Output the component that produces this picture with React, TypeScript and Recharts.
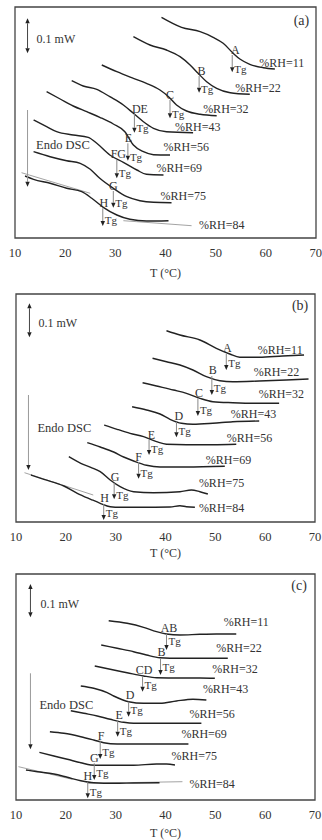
import React from 'react';
import { LineChart, Line, XAxis, YAxis, ReferenceArea, ReferenceLine, ReferenceDot } from 'recharts';

type Pt = [number, number];
type Txt = [string, number, number];
type Arr = [number, number, number, number];

const SERIF = '"Liberation Serif", "Times New Roman", serif';
const xTicks = [10, 20, 30, 40, 50, 60, 70];

// ---------- Panel (a) ----------
const aRH11: Pt[] = [[39.2,220.7],[43.2,210.7],[46.9,206.3],[49.5,200.7],[51.5,194.7],[53.5,184.7],[54.9,178.7],[56.8,173.7],[59.5,170.3],[61.8,169]];
const aRH22: Pt[] = [[33.6,201.3],[36.9,193],[40.2,188],[42.9,181.3],[44.9,173],[46.5,164.7],[48.2,156.3],[50.2,149.7],[52.9,145.3],[56.8,143.7]];
const aRH32: Pt[] = [[27.3,173],[30.3,166.3],[33.6,159.7],[36.2,154.7],[38.9,148],[40.6,141.3],[42.2,133],[44.2,127],[46.9,123.7],[50.2,122.3]];
const aRH43: Pt[] = [[21.3,157.3],[23.6,152],[26.3,148.7],[28.9,141.3],[31.6,133],[33.6,124.7],[35.6,116.3],[37.6,109.7],[40.2,106.3],[45.5,105.3]];
const aRH56: Pt[] = [[16.3,146.3],[19.0,139],[21.6,132],[24.3,126.3],[26.9,120.7],[29.6,114],[31.9,106.3],[33.6,93],[35.6,86.3],[37.6,83.3],[40.9,83]];
const aRH69: Pt[] = [[13.7,118],[16.3,111.3],[18.3,106.3],[21.6,103],[24.6,100.7],[26.3,94.7],[28.9,83],[31.6,75.7],[34.3,68],[36.2,63.7],[39.6,63]];
const aRH75: Pt[] = [[13.7,86.3],[17.0,81.3],[20.3,77.3],[23.0,74.7],[25.0,68.7],[26.9,59.7],[29.6,49.7],[32.3,41.3],[34.9,37.3],[37.6,35.7],[41.2,35.3]];
const aRH84: Pt[] = [[12.0,62],[13.7,58.7],[17.0,54.7],[20.3,49.7],[23.3,46.3],[25.3,39.7],[27.6,30.7],[30.3,23],[32.9,18.7],[36.2,17],[40.6,17.3]];
const aTan1: Pt[] = [[11.3,65.3],[25.0,44.7]];
const aTan2: Pt[] = [[31.6,17.3],[45.2,12.3]];
const aLetters: Txt[] = [['A',53.9,188],['B',47.2,167.3],['C',40.9,143],['DE',34.9,129],['E',32.6,99.7],['FG',30.6,84],['G',29.6,52],['H',27.7,35.3]];
const aArrows: Arr[] = [[53.3,183,165.7,169],[46.7,162,145.3,148.7],[40.9,138,119.7,124],[33.8,124,105.3,109.7],[32.5,94.7,77.3,80.7],[30.3,78,59.7,64.7],[29.6,47,30.3,34.7],[27.5,29.7,12,18]];
const aRH: Txt[] = [['%RH=11',58.7,174.7],['%RH=22',53.9,149.7],['%RH=32',47.5,129],['%RH=43',41.9,111.3],['%RH=56',39.6,90.7],['%RH=69',38.2,69.7],['%RH=75',39.0,42],['%RH=84',46.7,13]];
const aScale: number[] = [12.5, 219.7, 184.7];
const aScaleText: Txt = ['0.1 mW', 14.3, 198.7];
const aEndo: number[] = [12.5, 128, 51.3];
const aEndoText: Txt = ['Endo DSC', 14.2, 93];
const aTag: Txt = ['(a)', 67.1, 217.3];

// ---------- Panel (b) ----------
const bRH11: Pt[] = [[40.2,191.3],[42.9,187],[46.9,182],[50.2,173.7],[52.9,168],[54.9,164.7],[58.8,164.7],[63.5,166],[67.8,167]];
const bRH22: Pt[] = [[37.4,163.7],[40.2,160.3],[42.9,157],[45.5,152],[48.2,145.3],[50.9,141.3],[53.5,140.3],[58.8,141],[64.2,142],[68.7,143]];
const bRH32: Pt[] = [[35.4,139.3],[38.2,136],[41.6,132],[44.2,128.7],[46.9,123.7],[49.5,120.3],[53.5,119.3],[58.8,118.7],[62.8,118.7]];
const bRH43: Pt[] = [[33.3,115.3],[36.2,112],[38.9,108],[40.9,102.7],[43.2,98.7],[45.5,97.7],[49.5,98.7],[53.5,100.3],[58.8,101]];
const bRH56: Pt[] = [[27.7,97],[30.3,92.7],[32.9,88.7],[35.6,85.3],[38.2,80.3],[40.2,77.7],[44.2,77.3],[49.5,77.3],[54.2,77.7]];
const bRH69: Pt[] = [[24.3,79.3],[26.9,75],[29.6,70],[31.6,65],[33.6,61],[36.2,56.7],[38.9,55],[44.2,55],[51.9,55.7]];
const bRH75: Pt[] = [[20.6,65.3],[23.0,58.7],[25.0,54.7],[26.9,50.3],[28.9,42],[30.9,35.3],[33.6,30.3],[37.6,29.3],[42.9,30.3],[45.2,32],[46.9,30.3],[48.5,28]];
const bRH84: Pt[] = [[13.0,47],[15.6,42.7],[19.6,36],[22.3,28.7],[25.0,22.7],[26.9,18.7],[28.9,15.3],[30.9,14.7],[34.9,14.7],[40.9,15],[42.9,16.3],[44.2,15.3],[45.9,14.7]];
const bTan1: Pt[] = [[11.7,49.3],[25.5,27]];
const bLetters: Txt[] = [['A',52.4,173.7],['B',49.5,152],['C',46.7,128.7],['D',42.7,106],['E',37.2,87],['F',34.6,65.3],['G',29.9,45.3],['H',27.8,23.7]];
const bArrows: Arr[] = [[52.2,168,152,159.3],[49.3,146,127,133.7],[46.5,123.7,106,112],[42.2,100.3,84.7,91.3],[36.7,82,67,73],[34.6,60,43.3,49.3],[29.7,39.3,22.7,27],[27.6,18,2,8.7]];
const bRH: Txt[] = [['%RH=11',58.5,172],['%RH=22',57.7,150.3],['%RH=32',58.7,127.7],['%RH=43',53.1,108],['%RH=56',52.3,83.7],['%RH=69',48.1,62.3],['%RH=75',46.7,38.7],['%RH=84',46.7,14.3]];
const bScale: number[] = [12.7, 218.7, 184.7];
const bScaleText: Txt = ['0.1 mW', 14.5, 198.7];
const bEndo: number[] = [12.5, 127, 52];
const bEndoText: Txt = ['Endo DSC', 14.3, 93.7];
const bTag: Txt = ['(b)', 67, 217];

// ---------- Panel (c) ----------
const cRH11: Pt[] = [[28.6,179.3],[32.3,176.7],[35.6,172.7],[38.2,168.3],[40.2,166],[42.9,165],[46.9,165.7],[50.2,166],[54.2,166]];
const cRH22: Pt[] = [[27.1,155],[30.3,151.7],[33.6,148.3],[36.2,145],[38.9,142.3],[42.9,141.7],[46.9,141.7],[52.5,141.7]];
const cRH32: Pt[] = [[25.8,134],[28.9,130.7],[32.3,127.3],[35.6,124],[38.2,122.3],[42.9,122],[46.9,122],[49.9,121.7]];
const cRH43: Pt[] = [[23.0,114],[25.6,111.7],[28.3,107.3],[29.6,104],[32.6,98.3],[35.6,96.7],[38.9,96.7],[42.2,99],[45.5,100.7],[48.2,100]];
const cRH56: Pt[] = [[21.0,89.3],[23.6,86.7],[26.3,84],[28.9,80.7],[31.6,77.7],[33.6,76.7],[37.6,76.7],[42.9,76.7],[47.2,76.7]];
const cRH69: Pt[] = [[16.8,68.3],[19.6,66.7],[23.0,63.3],[25.6,60],[27.6,57.3],[30.3,56],[34.9,56],[40.2,56],[44.6,56]];
const cRH75: Pt[] = [[14.7,47.7],[17.6,44],[20.3,40.7],[23.0,37.3],[25.0,35],[26.9,34.7],[33.6,34.7],[38.2,36],[40.2,36],[41.9,35]];
const cRH84: Pt[] = [[12.0,30],[14.3,28.3],[17.6,26],[20.3,22.7],[23.0,19.3],[25.6,17.3],[29.6,16.7],[33.6,17],[38.8,17.3]];
const cTan1: Pt[] = [[10.5,33.3],[21.3,20.7]];
const cTan2: Pt[] = [[24.3,16.7],[43.4,18.3]];
const cLetters: Txt[] = [['AB',40.7,171.7],['B',39.2,148.3],['CD',35.7,130],['D',32.9,105],['E',30.7,85],['F',27.1,64.3],['G',25.7,42.3],['H',24.4,24]];
const cArrows: Arr[] = [[40.2,166,150,159],[39.0,141.7,125,132.7],[35.4,123.3,108.3,115],[32.6,98.3,83.3,90],[30.4,80,63.3,69.3],[26.9,59.3,41,48.3],[25.7,36.7,20,26.7],[24.4,18.3,1.7,8.3]];
const cRH: Txt[] = [['%RH=11',51.7,177.7],['%RH=22',50.2,151.7],['%RH=32',49.4,131],['%RH=43',47.5,110.7],['%RH=56',44.8,86],['%RH=69',43.2,65.7],['%RH=75',41.2,44.3],['%RH=84',44.8,16]];
const cScale: number[] = [12.9, 216, 182.7];
const cScaleText: Txt = ['0.1 mW', 14.9, 196];
const cEndo: number[] = [12.9, 126.7, 50.7];
const cEndoText: Txt = ['Endo DSC', 14.7, 95];
const cTag: Txt = ['(c)', 66.8, 215];

const toData = (pts: Pt[]) => pts.map(([t, y]) => ({ t, y }));

const arrowShape = (stem: string, head: string, both: boolean) => (p: any) => {
  const { x1, y1, x2, y2 } = p;
  const hw = 2.2;
  const hl = 5;
  const dir = y2 > y1 ? 1 : -1;
  return (
    <g>
      <line x1={x1} y1={both ? y1 + dir * hl : y1} x2={x2} y2={y2 - dir * hl} stroke={stem} strokeWidth={1} />
      <polygon points={`${x2},${y2} ${x2 - hw},${y2 - dir * hl} ${x2 + hw},${y2 - dir * hl}`} fill={head} />
      {both && (
        <polygon points={`${x1},${y1} ${x1 - hw},${y1 + dir * hl} ${x1 + hw},${y1 + dir * hl}`} fill={head} />
      )}
    </g>
  );
};

const textShape = (txt: string, anchor: 'start' | 'middle', size: number, dx = 0) => (p: any) => (
  <text
    x={p.cx + dx}
    y={p.cy}
    textAnchor={anchor}
    dominantBaseline="central"
    fontFamily={SERIF}
    fontSize={size}
    fill="#333"
  >
    {txt}
  </text>
);

interface PanelCfg {
  key: string;
  top: number;
  height: number;
  mt: number;
  ml: number;
  mr: number;
  H: number;
  titleOffset: number;
  curves: Pt[][];
  tangents: Pt[][];
  letters: Txt[];
  arrows: Arr[];
  rh: Txt[];
  scale: number[];
  scaleText: Txt;
  endo: number[];
  endoText: Txt;
  tag: Txt;
}

const panels: PanelCfg[] = [
  { key: 'a', top: 0, height: 284, mt: 7, ml: 15, mr: 6, H: 231, titleOffset: 1,
    curves: [aRH11, aRH22, aRH32, aRH43, aRH56, aRH69, aRH75, aRH84], tangents: [aTan1, aTan2],
    letters: aLetters, arrows: aArrows, rh: aRH, scale: aScale, scaleText: aScaleText, endo: aEndo, endoText: aEndoText, tag: aTag },
  { key: 'b', top: 280, height: 288, mt: 14, ml: 16, mr: 7, H: 228, titleOffset: 5,
    curves: [bRH11, bRH22, bRH32, bRH43, bRH56, bRH69, bRH75, bRH84], tangents: [bTan1],
    letters: bLetters, arrows: bArrows, rh: bRH, scale: bScale, scaleText: bScaleText, endo: bEndo, endoText: bEndoText, tag: bTag },
  { key: 'c', top: 565, height: 275, mt: 9, ml: 16, mr: 7, H: 226, titleOffset: 3,
    curves: [cRH11, cRH22, cRH32, cRH43, cRH56, cRH69, cRH75, cRH84], tangents: [cTan1, cTan2],
    letters: cLetters, arrows: cArrows, rh: cRH, scale: cScale, scaleText: cScaleText, endo: cEndo, endoText: cEndoText, tag: cTag },
];

function Panel({ cfg }: { cfg: PanelCfg }) {
  const extra = cfg.height - (cfg.mt + cfg.H + 40);
  return (
    <div style={{ position: 'absolute', left: 0, top: cfg.top }}>
      <LineChart width={322} height={cfg.height} margin={{ top: cfg.mt, right: cfg.mr, left: cfg.ml, bottom: extra }}>
        <XAxis
          dataKey="t"
          type="number"
          domain={[10, 70]}
          ticks={xTicks}
          allowDataOverflow
          axisLine={false}
          tickLine={false}
          tickSize={6}
          tickMargin={4}
          height={40}
          tick={{ fontSize: 12.5, fill: '#333', fontFamily: SERIF }}
          label={{ value: 'T (°C)', position: 'insideBottom', offset: cfg.titleOffset, fontSize: 12, fill: '#333', fontFamily: SERIF }}
        />
        <YAxis hide type="number" domain={[0, cfg.H]} allowDataOverflow />
        <ReferenceArea x1={10} x2={70} y1={0} y2={cfg.H} fill="none" fillOpacity={0} stroke="#444" strokeWidth={1.3} ifOverflow="visible" />
        {cfg.tangents.map((pts, i) => (
          <Line key={`tan${i}`} data={toData(pts)} dataKey="y" type="linear" stroke="#999" strokeWidth={0.9} dot={false} isAnimationActive={false} />
        ))}
        {cfg.curves.map((pts, i) => (
          <Line key={`c${i}`} data={toData(pts)} dataKey="y" type="monotone" stroke="#222" strokeWidth={1.4} dot={false} isAnimationActive={false} />
        ))}
        {cfg.arrows.map(([t, y1, y2], i) => (
          <ReferenceLine key={`ar${i}`} segment={[{ x: t, y: y1 }, { x: t, y: y2 }]} ifOverflow="visible" shape={arrowShape('#888', '#222', false)} />
        ))}
        <ReferenceLine segment={[{ x: cfg.scale[0], y: cfg.scale[1] }, { x: cfg.scale[0], y: cfg.scale[2] }]} ifOverflow="visible" shape={arrowShape('#444', '#222', true)} />
        <ReferenceLine segment={[{ x: cfg.endo[0], y: cfg.endo[1] }, { x: cfg.endo[0], y: cfg.endo[2] }]} ifOverflow="visible" shape={arrowShape('#999', '#222', false)} />
        {cfg.arrows.map(([t, , , ty], i) => (
          <ReferenceDot key={`tg${i}`} x={t} y={ty} ifOverflow="visible" shape={textShape('Tg', 'start', 11, 2)} />
        ))}
        {cfg.letters.map(([s, t, y], i) => (
          <ReferenceDot key={`l${i}`} x={t} y={y} ifOverflow="visible" shape={textShape(s, 'middle', 12)} />
        ))}
        {cfg.rh.map(([s, t, y], i) => (
          <ReferenceDot key={`rh${i}`} x={t} y={y} ifOverflow="visible" shape={textShape(s, 'start', 12)} />
        ))}
        <ReferenceDot x={cfg.scaleText[1]} y={cfg.scaleText[2]} ifOverflow="visible" shape={textShape(cfg.scaleText[0], 'start', 12)} />
        <ReferenceDot x={cfg.endoText[1]} y={cfg.endoText[2]} ifOverflow="visible" shape={textShape(cfg.endoText[0], 'start', 12.5)} />
        <ReferenceDot x={cfg.tag[1]} y={cfg.tag[2]} ifOverflow="visible" shape={textShape(cfg.tag[0], 'middle', 14)} />
      </LineChart>
    </div>
  );
}

export default function App() {
  return (
    <div style={{ position: 'absolute', left: 0, top: 0, width: 322, height: 840, background: '#fff' }}>
      {panels.map((p) => (
        <Panel key={p.key} cfg={p} />
      ))}
    </div>
  );
}
